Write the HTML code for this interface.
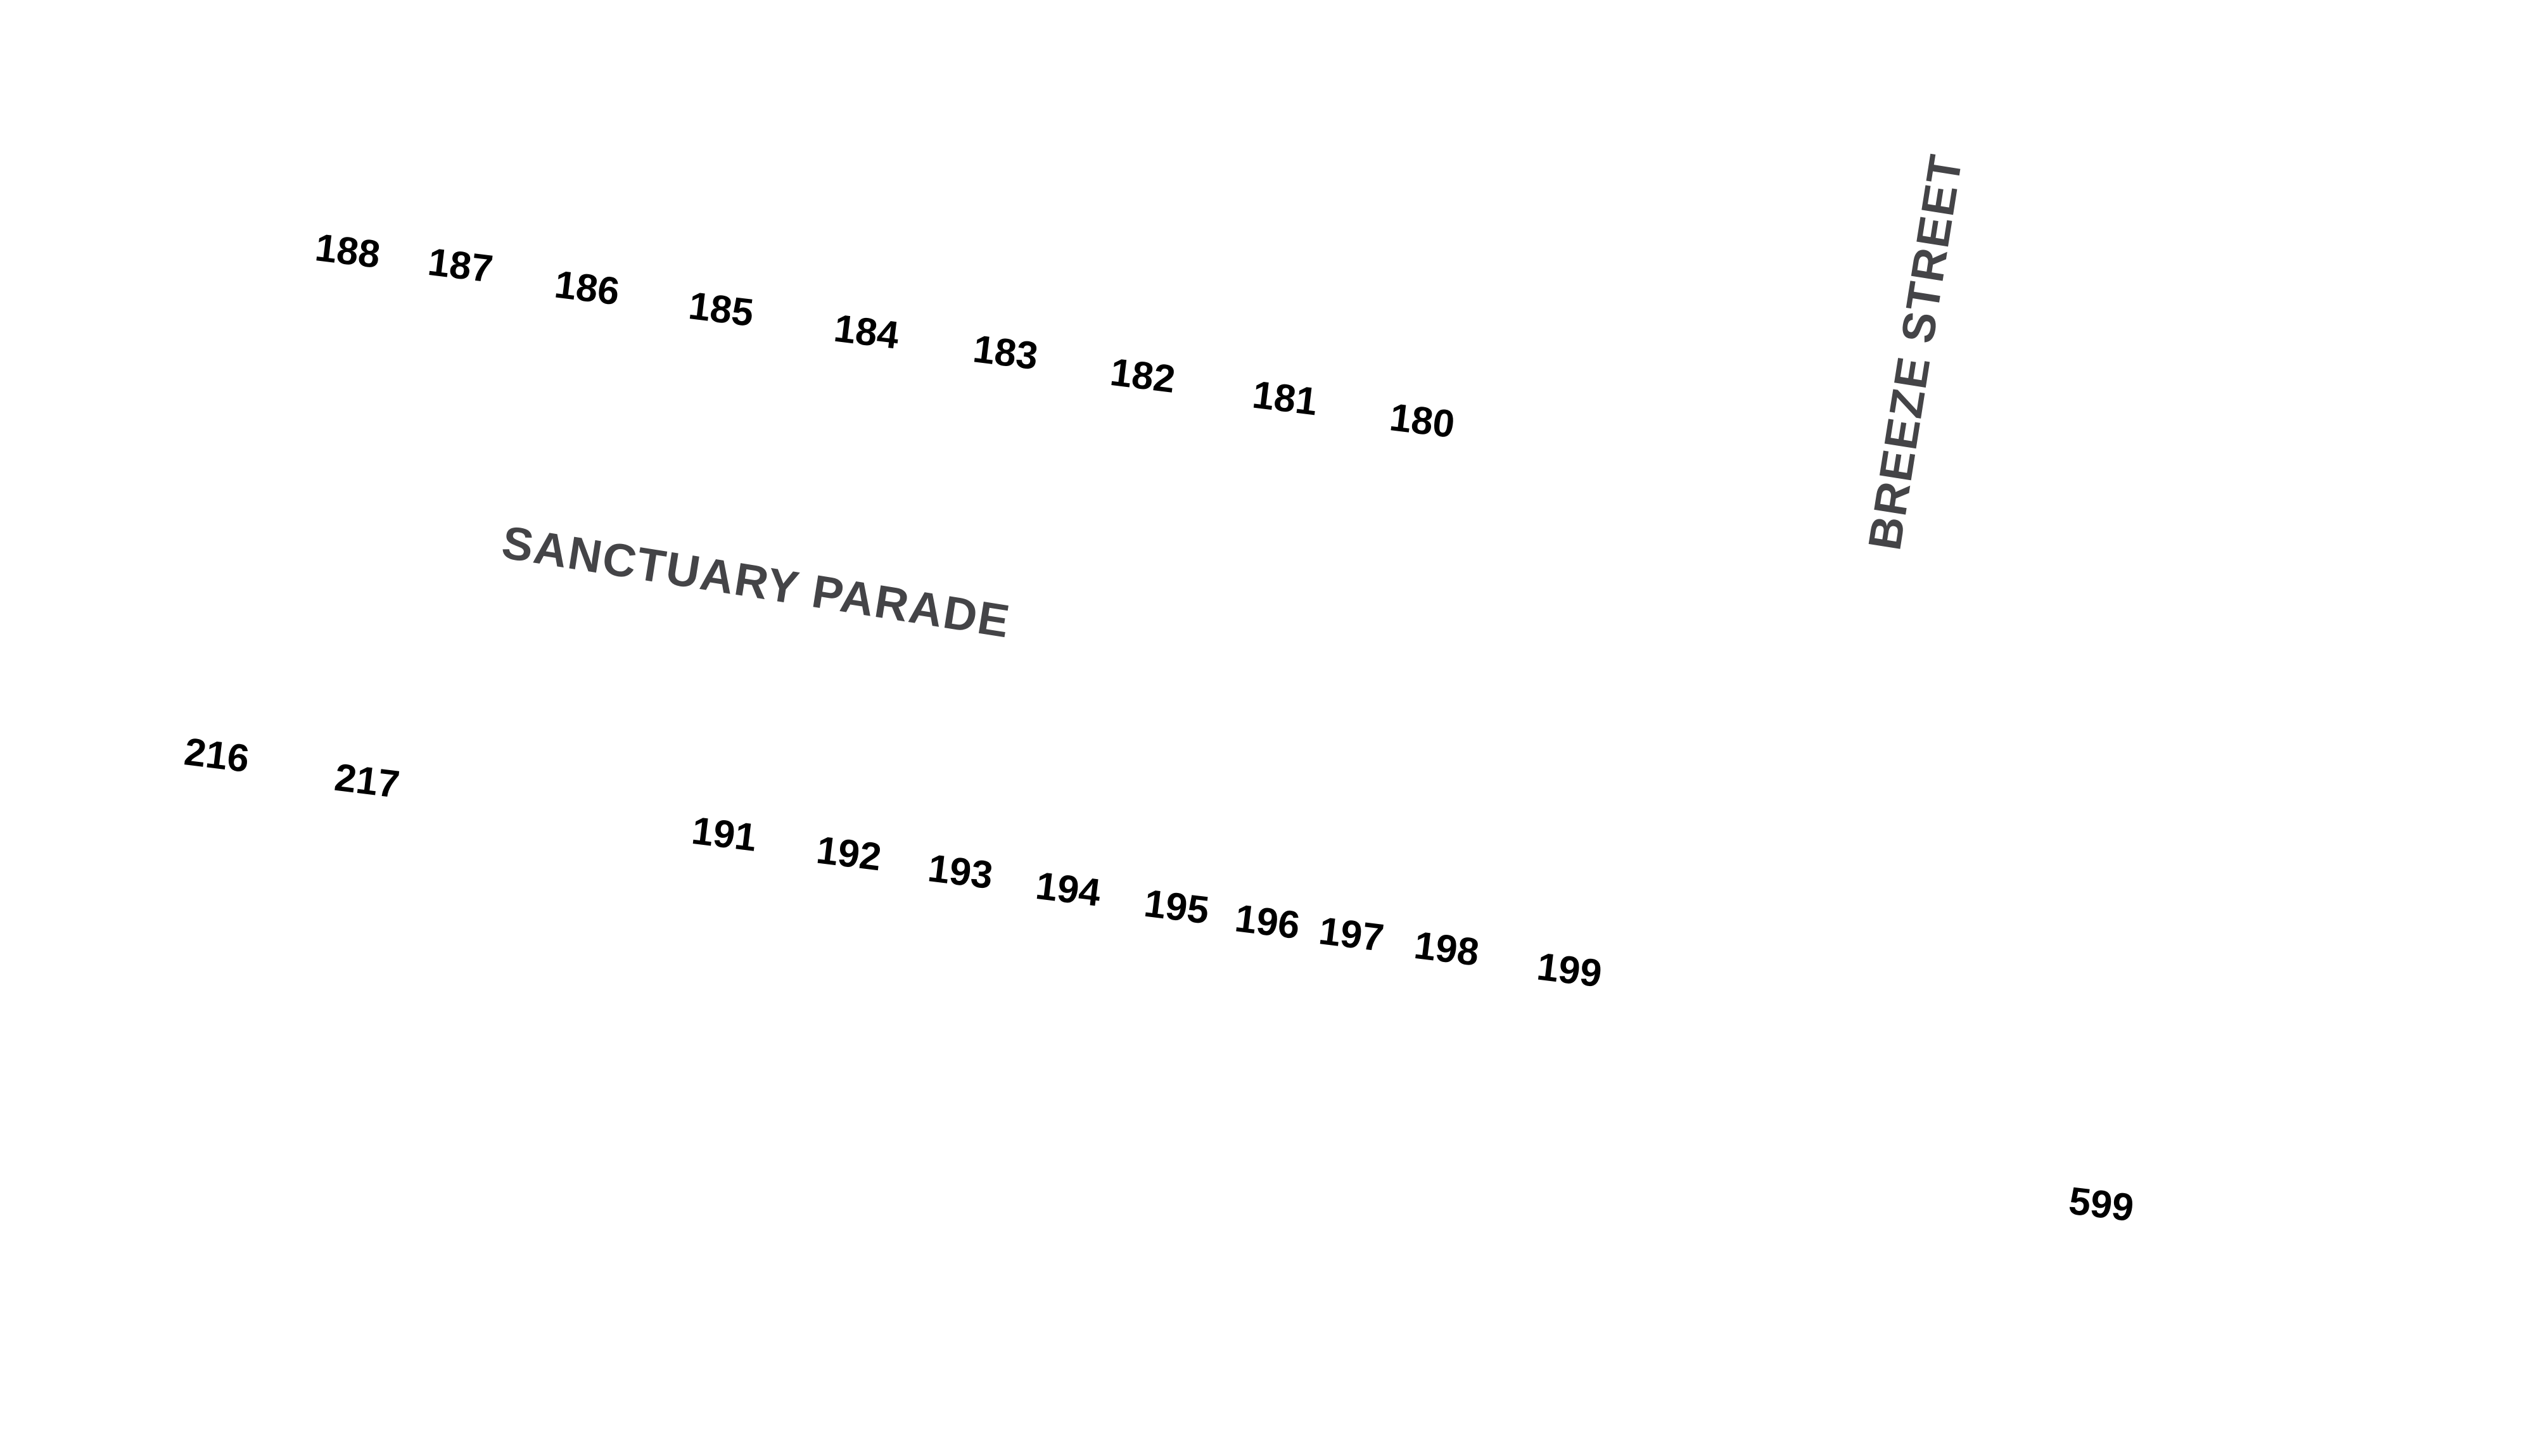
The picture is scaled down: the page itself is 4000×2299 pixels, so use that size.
<!DOCTYPE html>
<html><head><meta charset="utf-8"><style>
html,body{margin:0;padding:0;background:#fff;}
svg{display:block;}
.n{font-family:"Liberation Sans",sans-serif;font-weight:bold;font-size:62px;fill:#000;}
.s{font-family:"Liberation Sans",sans-serif;font-weight:bold;font-size:74px;fill:#444447;letter-spacing:2px;}
</style></head><body>
<svg width="4000" height="2299" viewBox="0 0 4000 2299" xmlns="http://www.w3.org/2000/svg">
<g text-anchor="middle" dominant-baseline="central">
<g transform="scale(0.989)">
<text class="n" transform="translate(555,400) rotate(7)">188</text>
<text class="n" transform="translate(735,423) rotate(7)">187</text>
<text class="n" transform="translate(937,459) rotate(7)">186</text>
<text class="n" transform="translate(1151,493) rotate(7)">185</text>
<text class="n" transform="translate(1383,529) rotate(7)">184</text>
<text class="n" transform="translate(1605,562) rotate(7)">183</text>
<text class="n" transform="translate(1824,599) rotate(7)">182</text>
<text class="n" transform="translate(2051,635) rotate(7)">181</text>
<text class="n" transform="translate(2270,671) rotate(7)">180</text>
<text class="n" transform="translate(346,1205) rotate(7)">216</text>
<text class="n" transform="translate(586,1246) rotate(7)">217</text>
<text class="n" transform="translate(1156,1331) rotate(7)">191</text>
<text class="n" transform="translate(1355,1362) rotate(7)">192</text>
<text class="n" transform="translate(1533,1391) rotate(7)">193</text>
<text class="n" transform="translate(1705,1419) rotate(7)">194</text>
<text class="n" transform="translate(1878,1447) rotate(7)">195</text>
<text class="n" transform="translate(2023,1471) rotate(7)">196</text>
<text class="n" transform="translate(2157,1491) rotate(7)">197</text>
<text class="n" transform="translate(2309,1514) rotate(7)">198</text>
<text class="n" transform="translate(2505,1548) rotate(7)">199</text>
<text class="n" transform="translate(3354,1922) rotate(7)">599</text>
<text class="s" transform="translate(1207,929) rotate(9)">SANCTUARY  PARADE</text>
<text class="s" transform="translate(3057,562) rotate(-81)">BREEZE  STREET</text>
</g>
</g>
</svg>
</body></html>
